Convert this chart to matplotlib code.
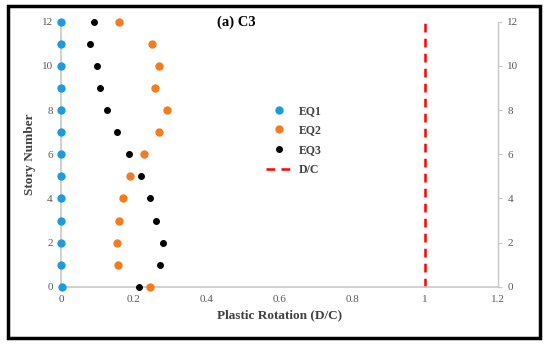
import matplotlib
matplotlib.use("Agg")
import matplotlib.pyplot as plt
from matplotlib.patches import Rectangle

plt.rcParams["font.family"] = ["Liberation Serif", "DejaVu Serif"]

stories = [12, 11, 10, 9, 8, 7, 6, 5, 4, 3, 2, 1, 0]
eq1 = [0, 0, 0, 0, 0, 0, 0, 0, 0, 0, 0, 0, 0.002]
eq2 = [0.159, 0.249, 0.268, 0.258, 0.291, 0.270, 0.228, 0.190, 0.169, 0.158, 0.153, 0.157, 0.244]
eq3 = [0.091, 0.080, 0.098, 0.107, 0.127, 0.153, 0.186, 0.220, 0.245, 0.260, 0.281, 0.272, 0.213]
dc_x = [1, 1]
dc_y = [0, 12]

blue = "#1F9BDB"
orange = "#F47B20"
grey = "#C8C8C8"
tick_col = "#595959"

fig = plt.figure(figsize=(5.5, 3.46), dpi=100)
ax = fig.add_axes([0.111, 0.171, 0.794, 0.766])

ax.plot(eq1, stories, "o", color=blue, ms=5, label="EQ1", clip_on=False, zorder=3)
ax.plot(eq2, stories, "o", color=orange, ms=5, label="EQ2", clip_on=False, zorder=3)
ax.plot(eq3, stories, "o", color="black", ms=4, label="EQ3", clip_on=False, zorder=3)
ax.plot(dc_x, dc_y, "--", color="#FF0000", lw=1.8, dashes=(3.5, 2.5), label="D/C", clip_on=False)

ax.set_xlim(0, 1.2)
ax.set_ylim(0, 12)
ax.set_xticks([0, 0.2, 0.4, 0.6, 0.8, 1.0, 1.2])
ax.set_xticklabels(["0", "0.2", "0.4", "0.6", "0.8", "1", "1.2"])
ax.set_yticks(range(0, 13, 2))

for s in ["top", "right"]:
    ax.spines[s].set_visible(False)
for s in ["left", "bottom"]:
    ax.spines[s].set_color(grey)
    ax.spines[s].set_linewidth(1.2)
ax.tick_params(axis="both", length=0, labelsize=8, labelcolor=tick_col, pad=6)

ax2 = ax.twinx()
ax2.set_ylim(0, 12)
ax2.set_yticks(range(0, 13, 2))
for s in ["top", "left", "bottom"]:
    ax2.spines[s].set_visible(False)
ax2.spines["right"].set_color(grey)
ax2.spines["right"].set_linewidth(1.0)
ax2.tick_params(axis="y", length=3, color=grey, labelsize=8, labelcolor=tick_col, pad=4)

ax.set_ylabel("Story Number", fontsize=9.5, fontweight="bold", color="#404040", labelpad=4)
ax.set_xlabel("Plastic Rotation (D/C)", fontsize=9.5, fontweight="bold", color="#404040", labelpad=4)

fig.text(0.43, 0.937, "(a) C3", fontsize=10.5, fontweight="bold", ha="center", va="center")

ax.legend(loc="upper left", bbox_to_anchor=(0.444, 0.727), frameon=False,
          handlelength=2.2, handletextpad=0.6, labelspacing=0.65,
          labelcolor="#404040", prop={"weight": "bold", "size": 8.5})

fig.patches.append(Rectangle((0.014, 0.023), 0.968, 0.96, transform=fig.transFigure,
                             fill=False, edgecolor="black", linewidth=2.5))

fig.savefig("out.png", dpi=100)
